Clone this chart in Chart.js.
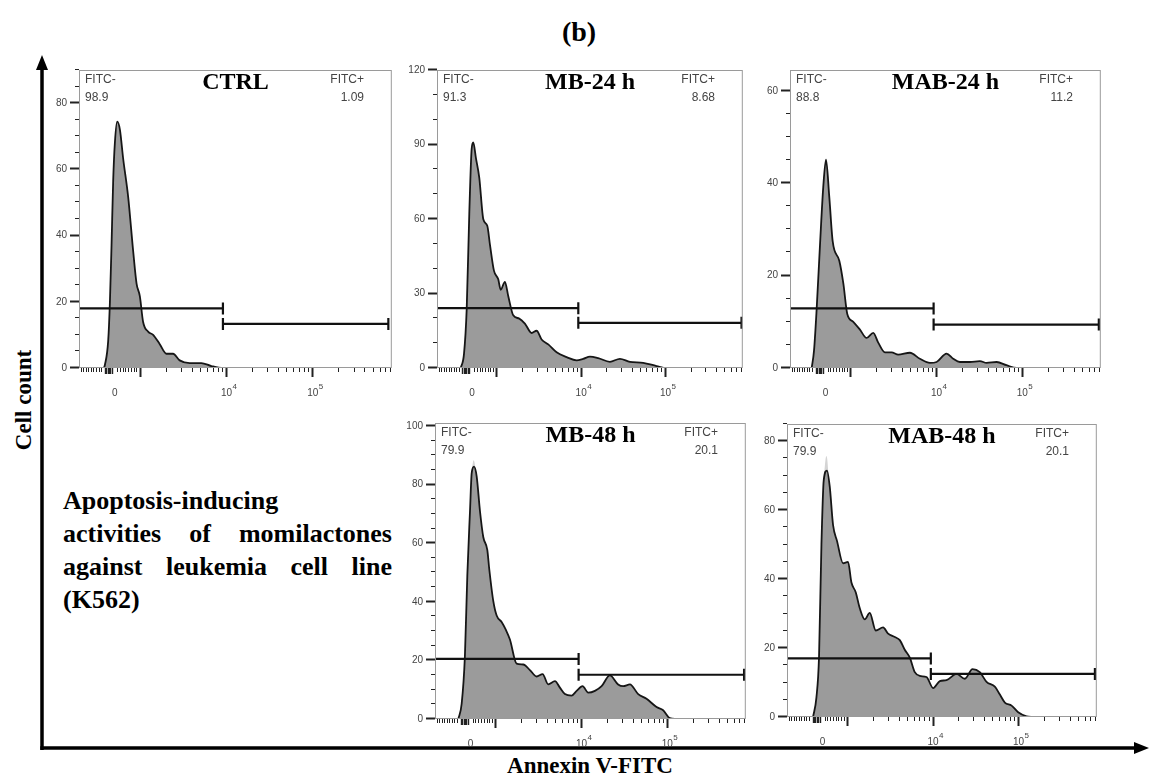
<!DOCTYPE html>
<html>
<head>
<meta charset="utf-8">
<title>Annexin V-FITC histograms</title>
<script src="https://cdn.jsdelivr.net/npm/chart.js@4.4.0/dist/chart.umd.min.js"></script>
<style>
  body { margin: 0; background: #fff; width: 1150px; height: 776px; position: relative; overflow: hidden;
         font-family: "Liberation Serif", "Times New Roman", serif; }
  .panel { position: absolute; }
  .panel canvas { position: absolute; left: 0; top: 0; }
  .gate-tag { position: absolute; font: 12px "Liberation Sans", Arial, sans-serif; color: #444; line-height: 18px; white-space: nowrap; }
  .sample { position: absolute; font-weight: bold; font-size: 24px; line-height: 28px; text-align: center; white-space: nowrap; color: #000; }
  #fig-label { position: absolute; left: 529px; top: 16px; width: 100px; text-align: center; font-weight: bold; font-size: 28px; line-height: 32px; }
  #y-title { position: absolute; left: 24px; top: 400px; transform: translate(-50%, -50%) rotate(-90deg); font-weight: bold; font-size: 23px; white-space: nowrap; }
  #x-title { position: absolute; left: 490px; top: 753px; width: 200px; text-align: center; font-weight: bold; font-size: 23px; line-height: 26px; white-space: nowrap; }
  #caption { position: absolute; left: 63px; top: 484px; width: 329px; font-weight: bold; font-size: 26px; line-height: 33px; text-align: justify; }
</style>
</head>
<body>
<svg width="1150" height="776" style="position:absolute;left:0;top:0">
  <line x1="42" y1="750" x2="42" y2="66" stroke="#000" stroke-width="3.5"/>
  <polygon points="42,55 36,70 48,70" fill="#000"/>
  <line x1="40.3" y1="748" x2="1136" y2="748" stroke="#000" stroke-width="3.5"/>
  <polygon points="1149,748 1134,742 1134,754" fill="#000"/>
</svg>
<div id="fig-label">(b)</div>
<div id="y-title">Cell count</div>
<div id="x-title">Annexin V-FITC</div>
<div id="caption">Apoptosis-inducing<br>activities of momilactones against leukemia cell line (K562)</div>

<script>
// Sample names and gate percentages
const sampleNames = ['CTRL', 'MB-24 h', 'MAB-24 h', 'MB-48 h', 'MAB-48 h'];
const fitcNeg = ['98.9', '91.3', '88.8', '79.9', '79.9'];
const fitcPos = ['1.09', '8.68', '11.2', '20.1', '20.1'];

// Y axis ranges (cell count)
const yMax = [90, 120, 64.5, 101, 85];
const yStep = [20, 30, 20, 20, 20];
const yMinor = [5, 10, 5, 5, 5];

// X axis in display decades (biexponential), labels as base + exponent
const xMin = 2.295, xMax = 5.92;
const xTickValues = [2.71, 4.03, 5.03];
const xTickBase = ['0', '10', '10'];
const xTickExp = ['', '4', '5'];

// Gates: FITC- marker ends where FITC+ starts
const gateSplit = [3.963, 3.97, 3.97, 3.97, 3.978];
const gateEnd = [5.88, 5.905, 5.897, 5.9, 5.898];
const negGateLevel = [18, 24.1, 12.9, 20.5, 17];
const posGateLevel = [13.3, 18.2, 9.4, 15.1, 12.5];

// Histograms
const ctrlX = [2.584, 2.595, 2.633, 2.653, 2.672, 2.691, 2.711, 2.738, 2.769, 2.807, 2.865, 2.923, 2.962, 3.0, 3.038, 3.096, 3.154, 3.231, 3.308, 3.385, 3.462, 3.578, 3.713, 3.829, 3.963, 4.31];
const ctrlCount = [0, 0.9, 8.1, 19.7, 37.1, 56.5, 68.1, 74.4, 72, 63.2, 51.6, 35.2, 25.5, 21.7, 13.9, 11, 10, 7.2, 4.3, 4.3, 2.3, 1.5, 1.5, 0.6, 0, 0];

const mb24X = [2.576, 2.615, 2.647, 2.678, 2.706, 2.725, 2.757, 2.796, 2.844, 2.891, 2.923, 2.97, 3.021, 3.05, 3.1, 3.14, 3.199, 3.27, 3.337, 3.417, 3.476, 3.535, 3.614, 3.713, 3.832, 3.95, 4.028, 4.108, 4.206, 4.345, 4.463, 4.582, 4.739, 4.898, 5.016, 5.1];
const mb24Count = [0, 5.7, 23.7, 62.5, 88.3, 90.8, 84.4, 76.7, 59.9, 57.3, 49.6, 39.2, 35.7, 31.5, 34.7, 28.9, 21.2, 19.9, 17.9, 14.1, 15, 11.5, 9.5, 6.3, 4.4, 3.1, 3.7, 4.6, 4, 2.5, 3.7, 2.5, 2.1, 0.8, 0, 0];

const mab24X = [2.548, 2.575, 2.606, 2.645, 2.683, 2.715, 2.753, 2.793, 2.87, 2.917, 2.963, 3.033, 3.111, 3.189, 3.266, 3.324, 3.402, 3.48, 3.557, 3.694, 3.81, 3.927, 4.005, 4.121, 4.198, 4.276, 4.393, 4.51, 4.588, 4.705, 4.82, 4.94, 5.0];
const mab24Count = [0, 3.75, 12.8, 26.7, 39.2, 45.1, 37.1, 27.4, 23.2, 18.3, 11.7, 10, 8.3, 6.5, 7.6, 5.5, 3.4, 3.4, 2.9, 3.3, 2, 1.1, 1.3, 3.1, 2, 1.3, 1.3, 1.5, 1.1, 1.3, 0.6, 0, 0];

const mb48X = [2.567, 2.606, 2.644, 2.672, 2.703, 2.723, 2.75, 2.781, 2.82, 2.858, 2.905, 2.928, 2.975, 3.014, 3.072, 3.122, 3.169, 3.247, 3.324, 3.402, 3.48, 3.55, 3.616, 3.694, 3.752, 3.81, 3.888, 3.947, 4.016, 4.082, 4.16, 4.238, 4.335, 4.431, 4.49, 4.568, 4.665, 4.762, 4.879, 4.956, 5.034, 5.112];
const mb48Count = [0, 5.2, 21.6, 49, 70.8, 83.9, 86.1, 82.8, 70.8, 62.1, 57.7, 51.1, 40.2, 35.3, 33.1, 30.4, 27.1, 18.9, 18.6, 16.7, 14.5, 15.3, 11.8, 12.9, 10.7, 8.5, 8, 9.6, 11.2, 9, 9.6, 11.2, 14.9, 11.8, 11.2, 11.8, 8.5, 6.9, 4.1, 3, 0.3, 0];

const mab48X = [2.6, 2.639, 2.67, 2.698, 2.725, 2.763, 2.795, 2.834, 2.88, 2.951, 3.009, 3.049, 3.099, 3.146, 3.205, 3.263, 3.334, 3.419, 3.478, 3.556, 3.615, 3.673, 3.732, 3.79, 3.849, 3.927, 4.005, 4.083, 4.161, 4.279, 4.376, 4.466, 4.551, 4.63, 4.727, 4.786, 4.844, 4.923, 5.0, 5.098, 5.176];
const mab48Count = [0, 5.6, 17.7, 50.1, 68.7, 71.5, 66.9, 55.7, 51.1, 44.6, 45, 39, 36.2, 31.6, 28.3, 30.2, 25.1, 26, 24.2, 23.2, 22.3, 19.5, 17.2, 13, 11.9, 11.6, 8.4, 10.4, 10.7, 12.5, 11.1, 13.9, 13, 10.2, 8.8, 6.5, 4.2, 3.3, 1.4, 0.2, 0];

// Faint overlaid peak tips on the 48 h samples
const mb48TipX = [2.72, 2.747, 2.778];
const mb48TipCount = [83.9, 88.3, 82.8];
const mab48TipX = [2.722, 2.757, 2.79];
const mab48TipCount = [68.7, 75.7, 67];

const histX = [ctrlX, mb24X, mab24X, mb48X, mab48X];
const histCount = [ctrlCount, mb24Count, mab24Count, mb48Count, mab48Count];
const tipX = [null, null, null, mb48TipX, mab48TipX];
const tipCount = [null, null, null, mb48TipCount, mab48TipCount];

// where each plot box sits on the page
const frames = [
  { left: 79, top: 58, width: 313, height: 310 },
  { left: 437, top: 58, width: 306, height: 310 },
  { left: 790, top: 58, width: 311, height: 310 },
  { left: 435, top: 411, width: 311, height: 308 },
  { left: 787, top: 412, width: 310, height: 305 }
];
const AXIS_W = 40, AXIS_H = 36, PAD_TOP = 6, PAD_RIGHT = 8;

// tick marks along the biexponential axis
function xTickMarks() {
  const marks = [];
  for (let k = 0; k < 9; k++) marks.push({ v: 2.318 + k * 0.029, len: 4, w: 1 });
  for (let v = 2.596; v <= 2.69; v += 0.016) marks.push({ v: v, len: 6, w: 1.4 });
  for (let k = 0; k < 8; k++) marks.push({ v: 2.735 + k * 0.0323, len: 4, w: 1 });
  for (let d = 3; d <= 5; d++) {
    marks.push({ v: d, len: 9, w: 2 });
    for (let k = 2; k <= 9; k++) {
      const v = d + Math.log10(k);
      if (v < xMax) marks.push({ v: v, len: 4, w: 1 });
    }
  }
  return marks;
}
const xMarks = xTickMarks();

const flowFrame = {
  id: 'flowFrame',
  afterDatasetsDraw(chart, args, opts) {
    const { ctx, chartArea: a, scales: { x, y } } = chart;
    ctx.save();
    ctx.strokeStyle = '#9a9a9a';
    ctx.lineWidth = 1;
    ctx.strokeRect(a.left + 0.5, a.top + 0.5, a.right - a.left - 1, a.bottom - a.top - 1);
    ctx.strokeStyle = '#222';
    // y ticks, long on labelled values
    for (let v = 0; v <= y.max + 1e-6; v += opts.minor) {
      const py = Math.round(y.getPixelForValue(v)) - 0.5;
      const major = Math.abs(v / opts.major - Math.round(v / opts.major)) < 1e-6;
      ctx.lineWidth = major ? 2 : 1;
      ctx.beginPath();
      ctx.moveTo(a.left - (major ? 9 : 4), py);
      ctx.lineTo(a.left, py);
      ctx.stroke();
    }
    // x ticks
    xMarks.forEach(m => {
      const px = Math.round(x.getPixelForValue(m.v)) + 0.5;
      ctx.lineWidth = m.w;
      ctx.beginPath();
      ctx.moveTo(px, a.bottom);
      ctx.lineTo(px, a.bottom + m.len);
      ctx.stroke();
    });
    // x labels with raised exponent
    ctx.fillStyle = '#444';
    ctx.textBaseline = 'alphabetic';
    xTickValues.forEach((v, k) => {
      const px = x.getPixelForValue(v);
      ctx.font = '10px "Liberation Sans", Arial, sans-serif';
      const bw = ctx.measureText(xTickBase[k]).width;
      ctx.font = '8px "Liberation Sans", Arial, sans-serif';
      const ew = xTickExp[k] ? ctx.measureText(xTickExp[k]).width : 0;
      const left = px - (bw + ew) / 2;
      ctx.textAlign = 'left';
      ctx.font = '10px "Liberation Sans", Arial, sans-serif';
      ctx.fillText(xTickBase[k], left, a.bottom + 28);
      if (xTickExp[k]) {
        ctx.font = '8px "Liberation Sans", Arial, sans-serif';
        ctx.fillText(xTickExp[k], left + bw + 0.5, a.bottom + 21);
      }
    });
    ctx.restore();
  }
};

function toPoints(xs, ys) {
  return xs.map((v, i) => ({ x: v, y: ys[i] }));
}

function makePanel(i) {
  const f = frames[i];
  const wrap = document.createElement('div');
  wrap.className = 'panel';
  const w = AXIS_W + f.width + PAD_RIGHT, h = PAD_TOP + f.height + AXIS_H;
  wrap.style.left = (f.left - AXIS_W) + 'px';
  wrap.style.top = (f.top - PAD_TOP) + 'px';
  wrap.style.width = w + 'px';
  wrap.style.height = h + 'px';
  const canvas = document.createElement('canvas');
  canvas.width = w;
  canvas.height = h;
  wrap.appendChild(canvas);

  const neg = document.createElement('div');
  neg.className = 'gate-tag';
  neg.style.left = (AXIS_W + 6) + 'px';
  neg.style.top = (PAD_TOP + 12) + 'px';
  neg.innerHTML = 'FITC-<br>' + fitcNeg[i];
  wrap.appendChild(neg);

  const pos = document.createElement('div');
  pos.className = 'gate-tag';
  pos.style.right = (PAD_RIGHT + 28) + 'px';
  pos.style.top = (PAD_TOP + 12) + 'px';
  pos.style.textAlign = 'right';
  pos.innerHTML = 'FITC+<br>' + fitcPos[i];
  wrap.appendChild(pos);

  const name = document.createElement('div');
  name.className = 'sample';
  name.style.left = AXIS_W + 'px';
  name.style.width = f.width + 'px';
  name.style.top = (PAD_TOP + 9) + 'px';
  name.textContent = sampleNames[i];
  wrap.appendChild(name);

  document.body.appendChild(wrap);

  const gateStyle = {
    type: 'line', borderColor: '#111', borderWidth: 2.2, pointStyle: 'line', rotation: 90,
    pointBorderColor: '#111', pointBorderWidth: 2.2, fill: false, order: 0
  };
  const datasets = [
    Object.assign({}, gateStyle, {
      data: [{ x: xMin, y: negGateLevel[i] }, { x: gateSplit[i], y: negGateLevel[i] }],
      pointRadius: [0, 6]
    }),
    Object.assign({}, gateStyle, {
      data: [{ x: gateSplit[i], y: posGateLevel[i] }, { x: gateEnd[i], y: posGateLevel[i] }],
      pointRadius: 6
    }),
    {
      data: toPoints(histX[i], histCount[i]),
      borderColor: '#161616', borderWidth: 1.8, backgroundColor: '#9b9b9b',
      fill: 'origin', pointRadius: 0, cubicInterpolationMode: 'monotone', order: 1
    }
  ];
  if (tipX[i]) {
    datasets.push({
      data: toPoints(tipX[i], tipCount[i]),
      borderWidth: 0, backgroundColor: '#d4d4d4', fill: 'origin',
      pointRadius: 0, tension: 0.4, order: 2
    });
  }

  new Chart(canvas.getContext('2d'), {
    type: 'line',
    data: { datasets: datasets },
    options: {
      responsive: false,
      animation: false,
      devicePixelRatio: 1,
      events: [],
      layout: { padding: { top: PAD_TOP, right: PAD_RIGHT, left: 0, bottom: 0 } },
      plugins: { legend: { display: false }, tooltip: { enabled: false }, flowFrame: { major: yStep[i], minor: yMinor[i] } },
      scales: {
        x: {
          type: 'linear', min: xMin, max: xMax,
          border: { display: false },
          grid: { display: false, drawTicks: false },
          afterFit: s => { s.height = AXIS_H; },
          ticks: { display: false }
        },
        y: {
          min: 0, max: yMax[i],
          border: { display: false },
          grid: { display: false, drawTicks: false },
          afterBuildTicks: s => {
            const t = [];
            for (let v = 0; v <= yMax[i] + 1e-6; v += yStep[i]) t.push({ value: v });
            s.ticks = t;
          },
          afterFit: s => { s.width = AXIS_W; },
          ticks: {
            padding: 12, color: '#444',
            font: { family: 'Liberation Sans', size: 10 }
          }
        }
      }
    },
    plugins: [flowFrame]
  });
}

for (let i = 0; i < frames.length; i++) makePanel(i);
</script>
</body>
</html>
